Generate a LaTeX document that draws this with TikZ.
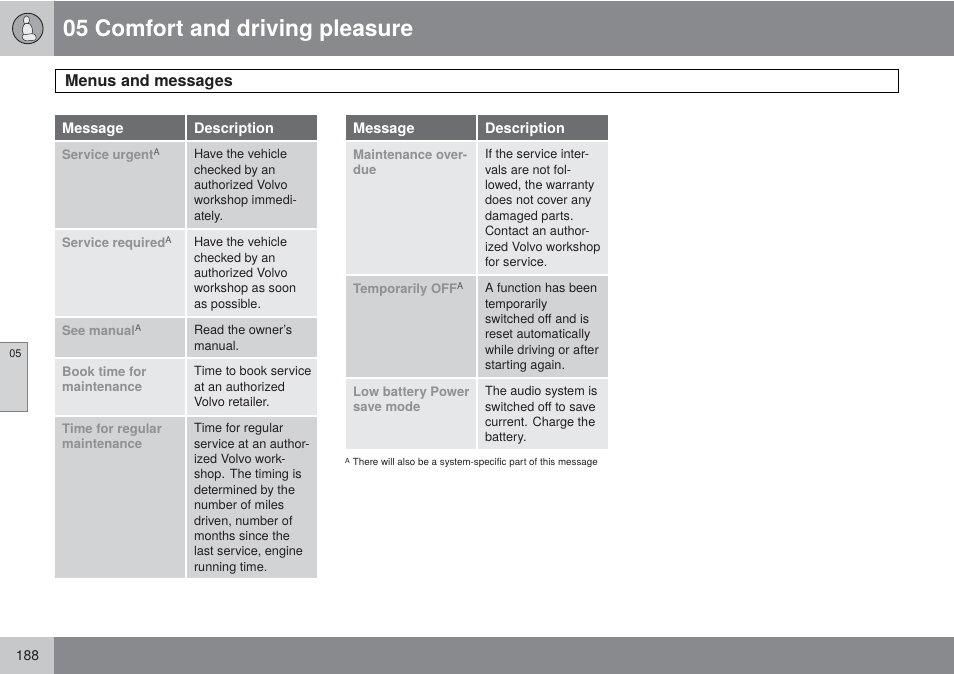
\documentclass[tikz,border=0pt]{standalone}
\usepackage{fontspec}
\setmainfont{TeX Gyre Heros}
\definecolor{bandgrey}{HTML}{898A8D}
\definecolor{paleband}{HTML}{C7C8CA}
\definecolor{badgegrey}{HTML}{A7A9AC}
\definecolor{headgrey}{HTML}{6D6E71}
\definecolor{darkcell}{HTML}{D1D3D4}
\definecolor{lightcell}{HTML}{E6E7E8}
\definecolor{msggrey}{HTML}{8F9194}
\definecolor{bodyink}{HTML}{231F20}
\tikzset{
  cell/.style={anchor=north west, inner sep=0pt, minimum width=130pt},
  darkbox/.style={cell, fill=darkcell},
  lightbox/.style={cell, fill=lightcell},
  headbox/.style={cell, fill=headgrey, minimum height=25pt},
  headtext/.style={anchor=west, inner sep=0pt, xshift=7pt, yshift=-2pt, text=white, font=\fontsize{14.5}{16}\selectfont\bfseries},
  msgtext/.style={anchor=north west, inner sep=0pt, xshift=7pt, yshift=-7.6pt, align=left, text=msggrey,
    font=\fontsize{13.1}{15.4}\selectfont\bfseries},
  desctext/.style={anchor=north west, inner sep=0pt, xshift=6.8pt, yshift=-7.2pt, align=left, text=bodyink,
    font=\fontsize{12.7}{15.4}\selectfont},
  seatpart/.style={draw=black!85, fill=white!92!black, line width=0.5pt, rounded corners=1.2pt},
}
\newcommand{\supA}{\smash{\textsuperscript{\mdseries\textcolor{bodyink!75}{A}}}}
\begin{document}
\begin{tikzpicture}[x=1pt, y=-1pt]
  \useasboundingbox (0,0) rectangle (954,674);
  \fill[paleband] (0,1) rectangle (54,56);
  \fill[bandgrey] (54,1) rectangle (954,56);
  \fill[paleband] (0,637) rectangle (54,674);
  \fill[bandgrey] (54,637) rectangle (954,674);
  \node[circle, draw=black!85, fill=badgegrey, line width=0.9pt, minimum size=30.5pt, inner sep=0pt] (badge) at (27.8,28.5) {};
  \draw[seatpart] (24,24) -- (29,23) -- (32,27) -- (33,35) -- (24,36) -- (22,30) -- cycle;
  \draw[seatpart] (23.5,19) -- (25,16) -- (28,16) -- (29.5,19) -- (29,23) -- (24,24) -- cycle;
  \draw[seatpart] (22,35) -- (33,33.5) -- (36,35.5) -- (36,40) -- (26,41) -- (22.5,39) -- cycle;
  \node[anchor=west, inner sep=0pt, text=white, font=\fontsize{22.8}{26}\selectfont\bfseries] (title) at (63,30) {05 Comfort and driving pleasure};
  \node[draw=black, line width=1pt, anchor=north west, minimum width=843.5pt, minimum height=23pt, inner sep=0pt] (banner) at (54.8,69.5) {};
  \node[anchor=west, inner sep=0pt, text=bodyink, font=\fontsize{16.2}{18}\selectfont\bfseries] (bannertext) at (65,82) {Menus and messages};
  \node[draw=black!50, fill=darkcell, line width=0.5pt, anchor=north west, minimum width=28pt, minimum height=69pt, inner sep=0pt] (tab) at (-1,341.5) {};
  \node[inner sep=0pt, text=bodyink, font=\fontsize{11}{13}\selectfont] (tabtext) at (15.5,354) {05};
  \node[inner sep=0pt, text=bodyink, font=\fontsize{14}{15}\selectfont] (page) at (27.5,655.5) {188};

  \node[headbox] (headA) at (55,115) {};
  \node[headtext] at (headA.west) {Message};
  \node[headbox] (headB) at (187,115) {};
  \node[headtext] at (headB.west) {Description};
  \node[darkbox, minimum height=86pt] (urgent) at (55,142) {};
  \node[msgtext] at (urgent.north west) {Service urgent\supA};
  \node[darkbox, minimum height=86pt] (urgentd) at (187,142) {};
  \node[desctext] at (urgentd.north west) {Have the vehicle\\checked by an\\authorized Volvo\\workshop immedi-\\ately.};
  \node[lightbox, minimum height=86pt] (required) at (55,230) {};
  \node[msgtext] at (required.north west) {Service required\supA};
  \node[lightbox, minimum height=86pt] (requiredd) at (187,230) {};
  \node[desctext] at (requiredd.north west) {Have the vehicle\\checked by an\\authorized Volvo\\workshop as soon\\as possible.};
  \node[darkbox, minimum height=39pt] (manual) at (55,318) {};
  \node[msgtext] at (manual.north west) {See manual\supA};
  \node[darkbox, minimum height=39pt] (manuald) at (187,318) {};
  \node[desctext] at (manuald.north west) {Read the owner's\\manual.};
  \node[lightbox, minimum height=56pt] (book) at (55,359) {};
  \node[msgtext] at (book.north west) {Book time for\\maintenance};
  \node[lightbox, minimum height=56pt] (bookd) at (187,359) {};
  \node[desctext] at (bookd.north west) {Time to book service\\at an authorized\\Volvo retailer.};
  \node[darkbox, minimum height=161pt] (regular) at (55,417) {};
  \node[msgtext, yshift=1pt] at (regular.north west) {Time for regular\\maintenance};
  \node[darkbox, minimum height=161pt] (regulard) at (187,417) {};
  \node[desctext, yshift=1pt] at (regulard.north west) {Time for regular\\service at an author-\\ized Volvo work-\\shop. The timing is\\determined by the\\number of miles\\driven, number of\\months since the\\last service, engine\\running time.};

  \node[headbox] (headC) at (346,115) {};
  \node[headtext] at (headC.west) {Message};
  \node[headbox] (headD) at (478,115) {};
  \node[headtext] at (headD.west) {Description};
  \node[lightbox, minimum height=132pt] (overdue) at (346,142) {};
  \node[msgtext] at (overdue.north west) {Maintenance over-\\due};
  \node[lightbox, minimum height=132pt] (overdued) at (478,142) {};
  \node[desctext] at (overdued.north west) {If the service inter-\\vals are not fol-\\lowed, the warranty\\does not cover any\\damaged parts.\\Contact an author-\\ized Volvo workshop\\for service.};
  \node[darkbox, minimum height=101pt] (off) at (346,276) {};
  \node[msgtext] at (off.north west) {Temporarily OFF\supA};
  \node[darkbox, minimum height=101pt] (offd) at (478,276) {};
  \node[desctext] at (offd.north west) {A function has been\\temporarily\\switched off and is\\reset automatically\\while driving or after\\starting again.};
  \node[lightbox, minimum height=70pt] (battery) at (346,379) {};
  \node[msgtext] at (battery.north west) {Low battery Power\\save mode};
  \node[lightbox, minimum height=70pt] (batteryd) at (478,379) {};
  \node[desctext] at (batteryd.north west) {The audio system is\\switched off to save\\current. Charge the\\battery.};
  \node[anchor=west, inner sep=0pt, text=bodyink, font=\fontsize{9.8}{11}\selectfont] (note) at (345,462.5) {\raisebox{1.5pt}{\fontsize{7}{8}\selectfont A}\hspace{3pt}There will also be a system-specific part of this message};
\end{tikzpicture}
\end{document}
